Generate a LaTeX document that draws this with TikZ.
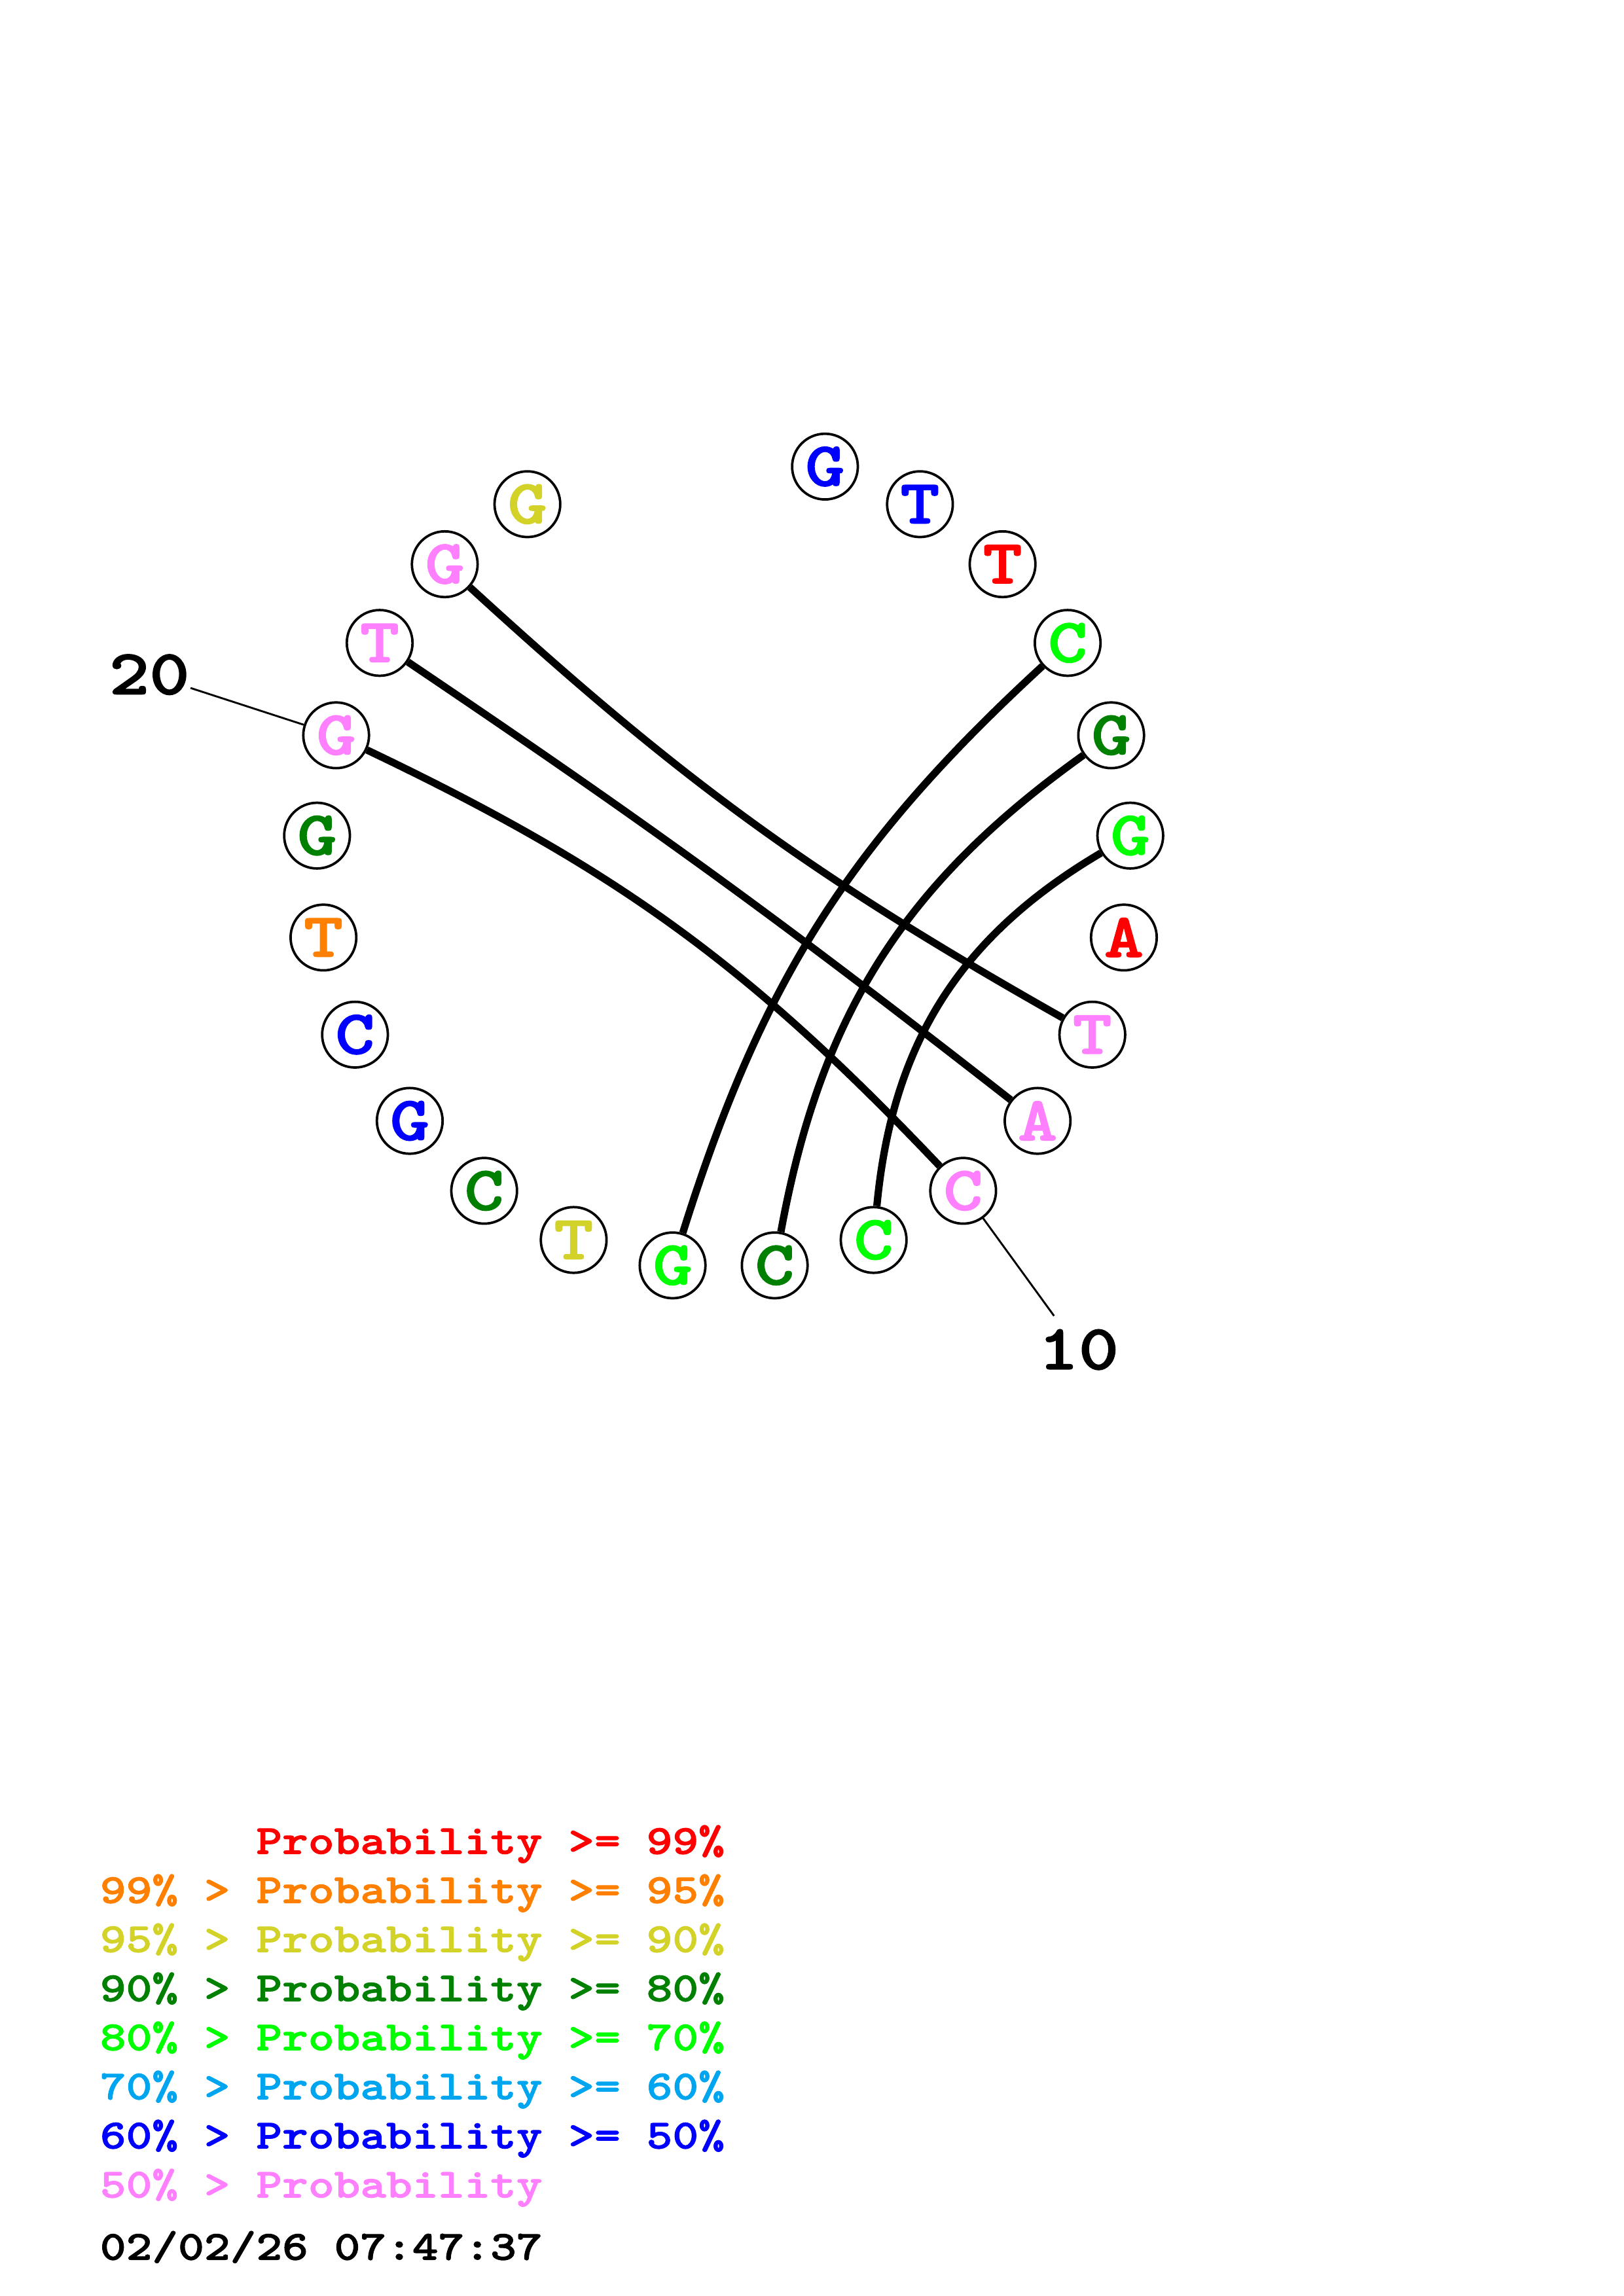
\documentclass[tikz,border=0pt]{standalone}
\usepackage{fontspec}
\usepackage{xcolor}
\usepackage{tikz}
\newfontfamily\courbf[FakeBold=1.6,FakeStretch=1.2]{lmmonolt10-bold.otf}

\definecolor{pred}{RGB}{255,0,0}
\definecolor{porange}{RGB}{255,128,0}
\definecolor{pyellow}{RGB}{210,210,40}
\definecolor{pdkgreen}{RGB}{0,128,0}
\definecolor{pgreen}{RGB}{0,255,0}
\definecolor{pltblue}{RGB}{0,165,240}
\definecolor{pblue}{RGB}{0,0,255}
\definecolor{ppink}{RGB}{255,128,255}

\tikzstyle{base}=[circle,inner sep=0pt,minimum size=8.5mm,draw=black,line width=0.9pt,fill=white,font=\courbf\fontsize{23}{23}\selectfont]
\tikzstyle{pair}=[line width=2.7pt]
\tikzstyle{tick}=[line width=0.7pt]
\tikzstyle{num}=[inner sep=0pt,font=\courbf\fontsize{23.5}{23.5}\selectfont]
\tikzstyle{legend}=[inner sep=0pt,anchor=base west,font=\courbf\fontsize{15.2}{15.2}\selectfont]

\begin{document}
\begin{tikzpicture}[]
\useasboundingbox (-9.36,-18.56) rectangle (11.64,11.14);

\node (1)  at (75.6:5.27)  [base,text=pblue]    {G};
\node (2)  at (61.2:5.27)  [base,text=pblue]    {T};
\node (3)  at (46.8:5.27)  [base,text=pred]     {T};
\node (4)  at (32.4:5.27)  [base,text=pgreen]   {C};
\node (5)  at (18.0:5.27)  [base,text=pdkgreen] {G};
\node (6)  at (3.6:5.27)   [base,text=pgreen]   {G};
\node (7)  at (-10.8:5.27) [base,text=pred]     {A};
\node (8)  at (-25.2:5.27) [base,text=ppink]    {T};
\node (9)  at (-39.6:5.27) [base,text=ppink]    {A};
\node (10) at (-54.0:5.27) [base,text=ppink]    {C};
\node (11) at (-68.4:5.27) [base,text=pgreen]   {C};
\node (12) at (-82.8:5.27) [base,text=pdkgreen] {C};
\node (13) at (-97.2:5.27) [base,text=pgreen]   {G};
\node (14) at (-111.6:5.27) [base,text=pyellow] {T};
\node (15) at (-126.0:5.27) [base,text=pdkgreen] {C};
\node (16) at (-140.4:5.27) [base,text=pblue]   {G};
\node (17) at (-154.8:5.27) [base,text=pblue]   {C};
\node (18) at (-169.2:5.27) [base,text=porange] {T};
\node (19) at (176.4:5.27) [base,text=pdkgreen] {G};
\node (20) at (162.0:5.27) [base,text=ppink]    {G};
\node (21) at (147.6:5.27) [base,text=ppink]    {T};
\node (22) at (133.2:5.27) [base,text=ppink]    {G};
\node (23) at (118.8:5.27) [base,text=pyellow]  {G};

\draw[pair] (4) to [bend right=15] (13);
\draw[pair] (5) to [bend right=22] (12);
\draw[pair] (6) to [bend right=27] (11);
\draw[pair] (8) to [bend left=6.5] (22);
\draw[pair] (9) to [bend right=2] (21);
\draw[pair] (10) to [bend right=10.5] (20);

% position numbers
\coordinate (t10) at (-54.0:7.27);
\coordinate (t20) at (162.0:7.25);
\draw[tick] (10) -- (t10);
\draw[tick] (20) -- (t20);
\node (l10) at (-54.0:7.81) [num] {10};
\node (l20) at (162.0:7.81) [num] {20};

% legend
\node (p1) at (-8.073,-12.84) [legend,text=pred]     {\phantom{99\% > }Probability >= 99\%};
\node (p2) at (-8.073,-13.475) [legend,text=porange] {99\% > Probability >= 95\%};
\node (p3) at (-8.073,-14.11) [legend,text=pyellow]  {95\% > Probability >= 90\%};
\node (p4) at (-8.073,-14.745) [legend,text=pdkgreen] {90\% > Probability >= 80\%};
\node (p5) at (-8.073,-15.38) [legend,text=pgreen]   {80\% > Probability >= 70\%};
\node (p6) at (-8.073,-16.015) [legend,text=pltblue] {70\% > Probability >= 60\%};
\node (p7) at (-8.073,-16.65) [legend,text=pblue]    {60\% > Probability >= 50\%};
\node (p8) at (-8.073,-17.285) [legend,text=ppink]   {50\% > Probability};
\node (date) at (-8.073,-18.09) [legend,text=black]  {02/02/26 07:47:37};
\end{tikzpicture}
\end{document}
